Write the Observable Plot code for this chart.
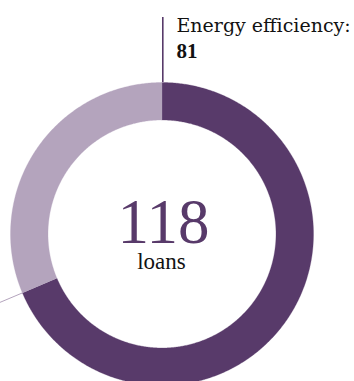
<!DOCTYPE html>
<html><head><meta charset="utf-8">
<script src="https://cdn.jsdelivr.net/npm/d3@7"></script>
<script src="https://cdn.jsdelivr.net/npm/@observablehq/plot@0.6"></script>
<style>html,body{margin:0;padding:0;background:#fff;overflow:hidden}</style>
</head><body><div id="chart"></div>
<script>
// Data
const categories = ["Energy efficiency", "Other"];
const values = [81, 37];
const colors = ["#583a6a", "#b4a4bd"];
const totalLabel = "118";
const unitLabel = "loans";
const leadLabel = "Energy efficiency:";
const leadValue = "81";

// Layout (pixels)
const W = 354, H = 381, cx = 161.5, cy = 233.5, R = 151.5, rIn = 114;
const innerRatio = rIn / R;
const ux = px => (px - cx) / R;   // pixel x -> unit
const uy = py => (cy - py) / R;   // pixel y -> unit

const data = categories.map((c, i) => ({category: c, value: values[i]}));
const arcs = d3.pie().sort(null).value(d => d.value)(data);

const ring = [];
for (const a of arcs) {
  const n = Math.max(2, Math.ceil((a.endAngle - a.startAngle) / (Math.PI / 360)));
  for (let k = 0; k <= n; k++) {
    const t = a.startAngle + (a.endAngle - a.startAngle) * k / n;
    ring.push({category: a.data.category, x: Math.sin(t), y: Math.cos(t)});
  }
  for (let k = n; k >= 0; k--) {
    const t = a.startAngle + (a.endAngle - a.startAngle) * k / n;
    ring.push({category: a.data.category, x: innerRatio * Math.sin(t), y: innerRatio * Math.cos(t)});
  }
}

const aLeft = arcs[1].startAngle;

const plot = Plot.plot({
  width: W, height: H,
  margin: 0,
  x: {domain: [ux(0), ux(W)], axis: null},
  y: {domain: [uy(H), uy(0)], axis: null},
  color: {domain: categories, range: colors},
  style: {background: "#fff", overflow: "hidden"},
  marks: [
    Plot.line(ring, {x: "x", y: "y", z: "category", fill: "category", stroke: "category", strokeWidth: 0.3, curve: "linear"}),
    Plot.ruleX([0], {x: d => ux(162.3), y1: 1, y2: uy(17), stroke: colors[0], strokeWidth: 1.6}),
    Plot.link([aLeft], {x1: a => Math.sin(a), y1: a => Math.cos(a), x2: a => 1.3 * Math.sin(a), y2: a => 1.3 * Math.cos(a), stroke: colors[1], strokeWidth: 1}),
    Plot.text([leadLabel], {x: ux(176), y: uy(31.5), text: d => d, textAnchor: "start", lineAnchor: "bottom", fontFamily: "DejaVu Serif", fontSize: 19, fill: "#121212"}),
    Plot.text([leadValue], {x: ux(176), y: uy(57.5), text: d => d, textAnchor: "start", lineAnchor: "bottom", fontFamily: "Liberation Serif", fontWeight: "bold", fontSize: 21, fill: "#121212"}),
    Plot.text([totalLabel], {x: ux(163), y: uy(242), text: d => d, textAnchor: "middle", lineAnchor: "bottom", fontFamily: "Liberation Serif", fontSize: 63, fill: colors[0]}),
    Plot.text([unitLabel], {x: ux(161), y: uy(268), text: d => d, textAnchor: "middle", lineAnchor: "bottom", fontFamily: "Liberation Serif", fontSize: 23, fill: "#121212"})
  ]
});
document.getElementById("chart").append(plot);
</script>
</body></html>
